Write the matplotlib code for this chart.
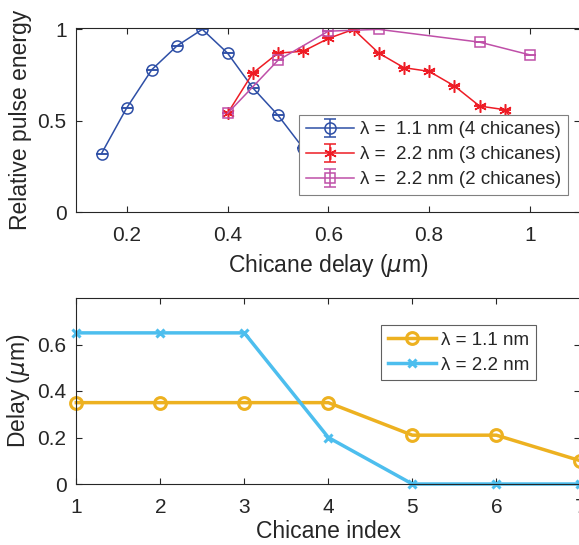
import matplotlib
matplotlib.use("Agg")
import matplotlib.pyplot as plt
from matplotlib.ticker import FuncFormatter

plt.rcParams["font.family"] = ["Liberation Sans", "DejaVu Sans"]
plt.rcParams["mathtext.fontset"] = "dejavusans"

# --------------------------------------------------------------------------- #
# Data
# --------------------------------------------------------------------------- #

# top panel: relative pulse energy vs chicane delay (um)
delay_11 = [0.15, 0.20, 0.25, 0.30, 0.35, 0.40, 0.45, 0.50, 0.55, 0.60]
energy_11 = [0.32, 0.57, 0.78, 0.91, 1.00, 0.87, 0.68, 0.53, 0.35, 0.22]
err_11 = [0, 0, 0, 0, 0, 0, 0, 0, 0, 0]

delay_22_3 = [0.40, 0.45, 0.50, 0.55, 0.60, 0.65, 0.70, 0.75, 0.80, 0.85,
              0.90, 0.95, 1.00]
energy_22_3 = [0.54, 0.76, 0.87, 0.88, 0.95, 1.00, 0.87, 0.79, 0.77, 0.69,
               0.58, 0.56, 0.38]
err_22_3 = [0, 0, 0, 0, 0, 0, 0, 0, 0, 0, 0, 0, 0]

delay_22_2 = [0.40, 0.50, 0.60, 0.70, 0.90, 1.00]
energy_22_2 = [0.54, 0.83, 0.99, 1.00, 0.93, 0.86]
err_22_2 = [0, 0, 0, 0, 0, 0]

top_labels = [
    "\u03bb =  1.1 nm (4 chicanes)",
    "\u03bb =  2.2 nm (3 chicanes)",
    "\u03bb =  2.2 nm (2 chicanes)",
]

# bottom panel: delay per chicane
chicane_idx = [1, 2, 3, 4, 5, 6, 7]
chic_delay_11 = [0.35, 0.35, 0.35, 0.35, 0.21, 0.21, 0.10]
chic_delay_22 = [0.65, 0.65, 0.65, 0.20, 0.00, 0.00, 0.00]
bottom_labels = ["\u03bb = 1.1 nm", "\u03bb = 2.2 nm"]

# --------------------------------------------------------------------------- #
# Styling
# --------------------------------------------------------------------------- #

TXT = "#262626"
BLUE = "#2e4fa6"
RED = "#ee1c25"
MAGENTA = "#bf4fa8"
ORANGE = "#edb120"
SKY = "#4dbeee"

TICK_FS = 15
LABEL_FS = 16.5
LEG_FS = 13.5

W, H = 579, 545
fig = plt.figure(figsize=(W / 100, H / 100), dpi=100)

# axes boxes measured in pixels: left, right, top, bottom
ax_top = fig.add_axes([76.3 / W, (H - 212) / H, 504.1 / W, 184.3 / H])
ax_bot = fig.add_axes([76.3 / W, (H - 484) / H, 504.1 / W, 186.0 / H])


def _num(v, _pos):
    s = f"{v:.1f}"
    return s[:-2] if s.endswith(".0") else s


def _style(ax):
    for sp in ax.spines.values():
        sp.set_color(TXT)
        sp.set_linewidth(0.8)
    ax.tick_params(direction="in", length=4, width=0.8, colors=TXT,
                   labelsize=TICK_FS, top=True, right=True)
    ax.tick_params(axis="x", pad=10)
    ax.tick_params(axis="y", pad=7)
    ax.xaxis.set_major_formatter(FuncFormatter(_num))
    ax.yaxis.set_major_formatter(FuncFormatter(_num))


def _legend(ax, anchor, loc, edge, hlen):
    leg = ax.legend(loc=loc, bbox_to_anchor=anchor, borderaxespad=0,
                    fontsize=LEG_FS, frameon=True, fancybox=False,
                    framealpha=1, edgecolor=edge, handlelength=hlen,
                    handletextpad=0.3, borderpad=0.35, labelspacing=0.42)
    leg.get_frame().set_linewidth(0.8)
    for t in leg.get_texts():
        t.set_color(TXT)
    return leg


# --------------------------------------------------------------------------- #
# Top panel
# --------------------------------------------------------------------------- #

series = [
    (delay_11, energy_11, err_11, BLUE, "o", 8),
    (delay_22_3, energy_22_3, err_22_3, RED, (6, 2, 0), 9),
    (delay_22_2, energy_22_2, err_22_2, MAGENTA, "s", 7.5),
]
for (x, y, e, col, mk, ms), lab in zip(series, top_labels):
    ax_top.errorbar(x, y, yerr=e, color=col, marker=mk, markersize=ms,
                    markerfacecolor="none", markeredgecolor=col,
                    markeredgewidth=1.1, linewidth=1.1, capsize=4,
                    elinewidth=1.1, capthick=1.1, label=lab)

ax_top.set_xlim(0.1, 1.1)
ax_top.set_ylim(0, 1.009)
ax_top.set_xticks([0.2, 0.4, 0.6, 0.8, 1.0])
ax_top.set_yticks([0, 0.5, 1.0])
_style(ax_top)
ax_top.set_xlabel("Chicane delay ($\\mu$m)", fontsize=LABEL_FS, color=TXT,
                  labelpad=5)
ax_top.set_ylabel("Relative pulse energy", fontsize=LABEL_FS, color=TXT,
                  labelpad=4)
_legend(ax_top, (0.442, 0.092), "lower left", "#808080", 2.6)

# --------------------------------------------------------------------------- #
# Bottom panel
# --------------------------------------------------------------------------- #

ax_bot.plot(chicane_idx, chic_delay_11, color=ORANGE, marker="o",
            markersize=8.5, markerfacecolor="none", markeredgewidth=2.2,
            linewidth=2.5, label=bottom_labels[0], clip_on=False)
ax_bot.plot(chicane_idx, chic_delay_22, color=SKY, marker="x",
            markersize=5.5, markeredgewidth=2.2, linewidth=2.5,
            label=bottom_labels[1], clip_on=False)

ax_bot.set_xlim(1, 7)
ax_bot.set_ylim(0, 0.8)
ax_bot.set_xticks(chicane_idx)
ax_bot.set_yticks([0, 0.2, 0.4, 0.6])
_style(ax_bot)
ax_bot.xaxis.set_major_formatter(FuncFormatter(lambda v, p: f"{int(v)}"))
ax_bot.set_xlabel("Chicane index", fontsize=LABEL_FS, color=TXT, labelpad=2.5)
ax_bot.set_ylabel("Delay ($\\mu$m)", fontsize=LABEL_FS, color=TXT, labelpad=4)
_legend(ax_bot, (0.605, 0.855), "upper left", "#606060", 2.55)

fig.savefig("out.png", dpi=100)
